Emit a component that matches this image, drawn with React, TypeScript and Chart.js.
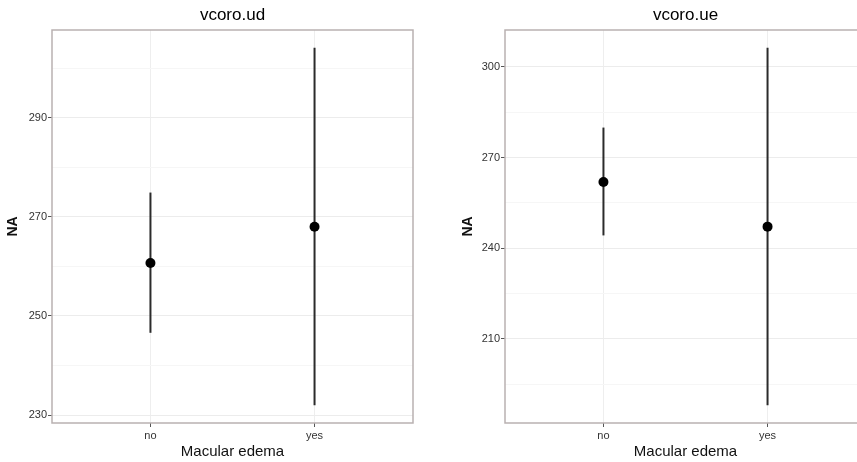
import React, { useEffect, useRef } from "react";
import { Chart, registerables } from "chart.js";

Chart.register(...registerables);

// ---- data ----
const categories = ["no", "yes"];

const udTitle = "vcoro.ud";
const udMean = [260.7, 268.0];
const udLow = [246.6, 232.0];
const udHigh = [274.9, 304.1];
const udTicks = [230, 250, 270, 290];
const udMinorTicks = [240, 260, 280, 300];
const udRange = [228.4, 307.7];

const ueTitle = "vcoro.ue";
const ueMean = [261.9, 247.1];
const ueLow = [244.2, 188.0];
const ueHigh = [279.9, 306.3];
const ueTicks = [210, 240, 270, 300];
const ueMinorTicks = [195, 225, 255, 285];
const ueRange = [182.1, 312.2];

const xLabel = "Macular edema";
const yLabel = "NA";

const FONT = "'Liberation Sans', Arial, Helvetica, sans-serif";

const panelBorder = {
  id: "panelBorder",
  afterDraw(chart: any) {
    const { ctx, chartArea } = chart;
    ctx.save();
    ctx.strokeStyle = "#b9b1b1";
    ctx.lineWidth = 1.5;
    ctx.strokeRect(
      chartArea.left,
      chartArea.top,
      chartArea.right - chartArea.left,
      chartArea.bottom - chartArea.top
    );
    ctx.restore();
  },
};

function makeConfig(
  title: string,
  mean: number[],
  low: number[],
  high: number[],
  ticks: number[],
  minor: number[],
  range: number[],
  yAxisWidth: number,
  yTitlePad: number,
  rightPad: number
): any {
  const errorSets = categories.map((c, i) => ({
    type: "line",
    label: c + " range",
    data: [
      { x: i + 1, y: low[i] },
      { x: i + 1, y: high[i] },
    ],
    borderColor: "#2b2b2b",
    borderWidth: 2,
    pointRadius: 0,
    fill: false,
    order: 2,
  }));
  const meanSet = {
    type: "scatter",
    label: "mean",
    data: categories.map((c, i) => ({ x: i + 1, y: mean[i] })),
    backgroundColor: "#000",
    borderColor: "#000",
    borderWidth: 0,
    pointRadius: 5,
    order: 1,
  };
  const allY = [...ticks, ...minor].sort((a, b) => a - b);
  const isMajorY = (v: number) => ticks.includes(v);
  return {
    type: "scatter",
    data: { datasets: [...errorSets, meanSet] },
    plugins: [panelBorder],
    options: {
      animation: false,
      responsive: false,
      layout: { padding: { left: 0, right: rightPad, top: 0, bottom: 0 } },
      plugins: {
        legend: { display: false },
        tooltip: { enabled: false },
        title: {
          display: true,
          text: title,
          fullSize: false,
          color: "#000",
          font: { family: FONT, size: 17, weight: "normal", lineHeight: 1.2 },
          padding: { top: 5, bottom: 4.6 },
        },
      },
      scales: {
        x: {
          type: "linear",
          min: 0.4,
          max: 2.6,
          afterBuildTicks: (s: any) => {
            s.ticks = categories.map((c, i) => ({ value: i + 1 }));
          },
          afterFit: (s: any) => {
            s.height = 39;
          },
          ticks: {
            callback: (v: any) => categories[Math.round(v) - 1] ?? "",
            color: "#333",
            font: { family: FONT, size: 11 },
            padding: 2,
            maxRotation: 0,
          },
          grid: {
            color: "#eeeeee",
            lineWidth: 1,
            tickColor: "#555",
            tickLength: 4,
          },
          border: { display: false },
          title: {
            display: true,
            text: xLabel,
            color: "#111",
            font: { family: FONT, size: 15, lineHeight: 1.2 },
            padding: { top: 0, bottom: 1 },
          },
        },
        y: {
          type: "linear",
          min: range[0],
          max: range[1],
          afterBuildTicks: (s: any) => {
            s.ticks = allY.map((v) => ({ value: v }));
          },
          afterFit: (s: any) => {
            s.width = yAxisWidth;
          },
          ticks: {
            callback: (v: any) => (isMajorY(v) ? String(v) : ""),
            color: "#333",
            font: { family: FONT, size: 11 },
            padding: 1,
          },
          grid: {
            color: (ctx: any) =>
              ctx.tick && isMajorY(ctx.tick.value) ? "#ececec" : "#f6f6f6",
            tickColor: (ctx: any) =>
              ctx.tick && isMajorY(ctx.tick.value) ? "#555" : "rgba(0,0,0,0)",
            lineWidth: 1,
            tickLength: 4,
          },
          border: { display: false },
          title: {
            display: true,
            text: yLabel,
            color: "#111",
            font: { family: FONT, size: 14, weight: "bold", lineHeight: 1.2 },
            padding: { top: yTitlePad, bottom: 0 },
          },
        },
      },
    },
  };
}

function Panel(props: {
  left: number;
  width: number;
  config: any;
}) {
  const ref = useRef<HTMLCanvasElement | null>(null);
  useEffect(() => {
    if (!ref.current) return;
    const chart = new Chart(ref.current, props.config);
    return () => chart.destroy();
  }, []);
  return (
    <canvas
      ref={ref}
      width={props.width}
      height={462}
      style={{
        position: "absolute",
        left: props.left,
        top: 0,
        width: props.width,
        height: 462,
      }}
    />
  );
}

export default function App() {
  const leftCfg = makeConfig(
    udTitle, udMean, udLow, udHigh, udTicks, udMinorTicks, udRange, 52, 5, 17
  );
  const rightCfg = makeConfig(
    ueTitle, ueMean, ueLow, ueHigh, ueTicks, ueMinorTicks, ueRange, 75, 30, 9
  );
  return (
    <div
      style={{
        position: "fixed",
        left: 0,
        top: 0,
        width: 857,
        height: 462,
        overflow: "hidden",
        background: "#fff",
      }}
    >
      <Panel left={0} width={430} config={leftCfg} />
      <Panel left={430} width={445} config={rightCfg} />
    </div>
  );
}
